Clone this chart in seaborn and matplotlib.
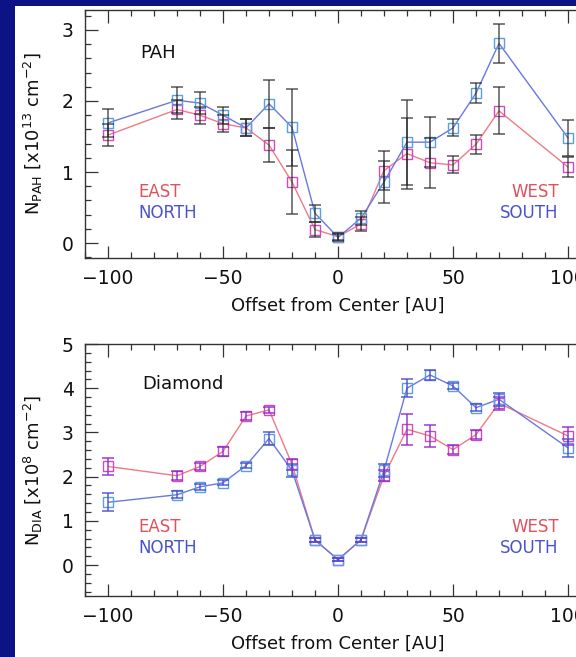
import numpy as np
import pandas as pd
import seaborn as sns
import matplotlib
matplotlib.use("Agg")
import matplotlib.pyplot as plt
from matplotlib.patches import Rectangle
from matplotlib.ticker import MultipleLocator

# ---------------- data ----------------
offsets = [-100, -70, -60, -50, -40, -30, -20, -10, 0, 10, 20, 30, 40, 50, 60, 70, 100]

pah_east = [1.52, 1.88, 1.80, 1.68, 1.62, 1.38, 0.86, 0.19, 0.09, 0.27, 1.02, 1.26, 1.13, 1.10, 1.39, 1.86, 1.07]
pah_east_err = [0.15, 0.13, 0.12, 0.12, 0.12, 0.24, 0.45, 0.10, 0.05, 0.10, 0.28, 0.50, 0.35, 0.12, 0.13, 0.33, 0.14]
pah_north = [1.69, 2.01, 1.97, 1.80, 1.62, 1.96, 1.63, 0.42, 0.08, 0.35, 0.86, 1.42, 1.42, 1.62, 2.11, 2.81, 1.48]
pah_north_err = [0.20, 0.18, 0.16, 0.12, 0.12, 0.34, 0.54, 0.12, 0.05, 0.10, 0.30, 0.60, 0.35, 0.12, 0.14, 0.28, 0.25]

dia_east = [2.23, 2.02, 2.23, 2.57, 3.37, 3.51, 2.28, 0.57, 0.12, 0.57, 2.02, 3.07, 2.92, 2.61, 2.95, 3.66, 2.92]
dia_east_err = [0.20, 0.10, 0.07, 0.10, 0.10, 0.06, 0.12, 0.05, 0.03, 0.05, 0.12, 0.35, 0.25, 0.10, 0.10, 0.15, 0.20]
dia_north = [1.42, 1.59, 1.77, 1.86, 2.25, 2.86, 2.14, 0.57, 0.12, 0.57, 2.14, 4.00, 4.30, 4.05, 3.56, 3.75, 2.65]
dia_north_err = [0.20, 0.08, 0.07, 0.06, 0.05, 0.15, 0.15, 0.05, 0.03, 0.05, 0.15, 0.20, 0.12, 0.07, 0.08, 0.15, 0.20]

xlabel = "Offset from Center [AU]"
pah_ylabel = r"N$_{\rm PAH}$ [x10$^{13}$ cm$^{-2}$]"
dia_ylabel = r"N$_{\rm DIA}$ [x10$^{8}$ cm$^{-2}$]"

# ---------------- style ----------------
sns.set_theme(style="white")
plt.rcParams["font.family"] = ["DejaVu Sans"]
plt.rcParams["mathtext.fontset"] = "dejavusans"

NAVY = "#0c1384"
RED_LINE = "#ee7a86"
RED_MARK = "#d24ab8"
BLUE_LINE = "#6a78e0"
BLUE_MARK = "#58a0e0"
RED_TXT = "#e2505c"
BLUE_TXT = "#4a52cc"

fig = plt.figure(figsize=(5.76, 6.57), dpi=100, facecolor=NAVY)
bg = Rectangle((15 / 576, 0), 1, 1 - 6 / 657, transform=fig.transFigure,
               facecolor="white", edgecolor="none", zorder=-10)
fig.patches.append(bg)

ax1 = fig.add_axes([85 / 576, 1 - 258 / 657, 506 / 576, 248 / 657])
ax2 = fig.add_axes([85 / 576, 1 - 596 / 657, 506 / 576, 252 / 657])


def draw(ax, ye, yee, yn, yne, ecol_e, ecol_n, ealpha):
    df_e = pd.DataFrame({"x": offsets, "y": ye})
    df_n = pd.DataFrame({"x": offsets, "y": yn})
    sns.lineplot(data=df_e, x="x", y="y", ax=ax, color=RED_LINE, linewidth=1.0,
                 marker="s", markersize=7, markerfacecolor="none",
                 markeredgecolor=RED_MARK, markeredgewidth=1.0, zorder=3)
    sns.lineplot(data=df_n, x="x", y="y", ax=ax, color=BLUE_LINE, linewidth=1.0,
                 marker="s", markersize=7, markerfacecolor="none",
                 markeredgecolor=BLUE_MARK, markeredgewidth=1.0, zorder=3)
    ax.errorbar(offsets, ye, yerr=yee, fmt="none", ecolor=ecol_e, elinewidth=1.1,
                capsize=4, capthick=1.1, alpha=ealpha, zorder=4)
    ax.errorbar(offsets, yn, yerr=yne, fmt="none", ecolor=ecol_n, elinewidth=1.1,
                capsize=4, capthick=1.1, alpha=ealpha, zorder=4)


draw(ax1, pah_east, pah_east_err, pah_north, pah_north_err, "#222222", "#222222", 0.75)
draw(ax2, dia_east, dia_east_err, dia_north, dia_north_err, "#8a2ad0", "#4a4ad0", 0.9)

for ax, ylim, ylab in [(ax1, (-0.21, 3.28), pah_ylabel), (ax2, (-0.7, 5.0), dia_ylabel)]:
    ax.set_facecolor("white")
    ax.set_xlim(-110, 110)
    ax.set_ylim(*ylim)
    ax.xaxis.set_major_locator(MultipleLocator(50))
    ax.xaxis.set_minor_locator(MultipleLocator(10))
    ax.yaxis.set_major_locator(MultipleLocator(1))
    ax.yaxis.set_minor_locator(MultipleLocator(0.2))
    ax.tick_params(which="both", direction="in", top=True, right=True,
                   bottom=True, left=True, color="#333333", width=0.9)
    ax.tick_params(which="major", length=9, labelsize=13.5, labelcolor="#111111", pad=8)
    ax.tick_params(which="minor", length=4.5)
    for s in ax.spines.values():
        s.set_color("#333333")
        s.set_linewidth(1.0)
        s.set_visible(True)
    ax.set_xlabel(xlabel, fontsize=13, color="#111111", labelpad=6)
    ax.set_ylabel(ylab, fontsize=13, color="#111111", labelpad=12)

ax1.text(-86, 2.68, "PAH", fontsize=13, color="#111111", ha="left", va="center")
ax1.text(-87, 0.72, "EAST", fontsize=12, color=RED_TXT, ha="left", va="center")
ax1.text(-87, 0.43, "NORTH", fontsize=12, color=BLUE_TXT, ha="left", va="center")
ax1.text(96, 0.72, "WEST", fontsize=12, color=RED_TXT, ha="right", va="center")
ax1.text(96, 0.43, "SOUTH", fontsize=12, color=BLUE_TXT, ha="right", va="center")

ax2.text(-85, 4.09, "Diamond", fontsize=13, color="#111111", ha="left", va="center")
ax2.text(-87, 0.86, "EAST", fontsize=12, color=RED_TXT, ha="left", va="center")
ax2.text(-87, 0.39, "NORTH", fontsize=12, color=BLUE_TXT, ha="left", va="center")
ax2.text(96, 0.86, "WEST", fontsize=12, color=RED_TXT, ha="right", va="center")
ax2.text(96, 0.39, "SOUTH", fontsize=12, color=BLUE_TXT, ha="right", va="center")

fig.savefig("out.png", dpi=100, facecolor=NAVY)
